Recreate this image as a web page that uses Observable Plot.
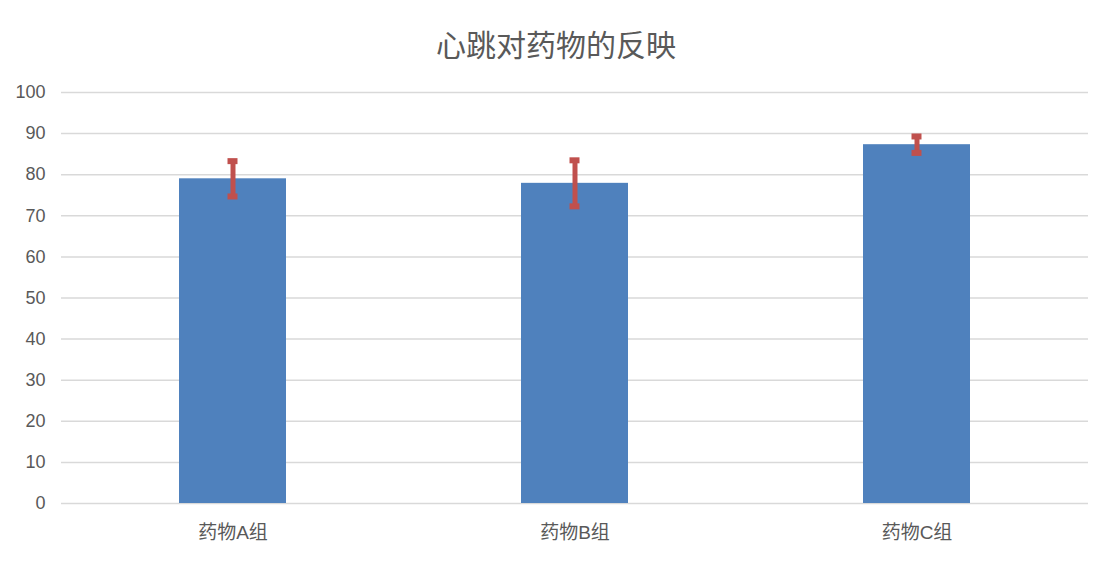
<!DOCTYPE html>
<html>
<head>
<meta charset="utf-8">
<script src="https://cdn.jsdelivr.net/npm/d3@7"></script>
<script src="https://cdn.jsdelivr.net/npm/@observablehq/plot@0.6"></script>
<style>
  html, body { margin: 0; padding: 0; background: #fff; }
  body { width: 1112px; height: 561px; overflow: hidden; font-family: "Liberation Sans", "Noto Sans CJK SC", sans-serif; }
  #title { height: 70px; line-height: 86px; text-align: center; font-size: 30px; color: #595959; font-family: "Noto Sans CJK SC", sans-serif; padding-left: 0px; }
</style>
</head>
<body>
<div id="title">心跳对药物的反映</div>
<div id="chart"></div>
<script>
const groups = ["药物A组", "药物B组", "药物C组"];
const means = [79, 77.9, 87.3];
const errors = [4.3, 5.6, 2.0];
const yTicks = [0, 10, 20, 30, 40, 50, 60, 70, 80, 90, 100];

const data = groups.map((g, i) => ({
  group: g,
  value: means[i],
  lo: means[i] - errors[i],
  hi: means[i] + errors[i]
}));

const chart = Plot.plot({
  width: 1112,
  height: 491,
  marginTop: 22,
  marginBottom: 58,
  marginLeft: 61,
  marginRight: 24,
  style: { fontFamily: "'Liberation Sans', 'Noto Sans CJK SC', sans-serif", fontSize: "18px", color: "#595959", background: "#fff" },
  x: { domain: groups, paddingInner: 0.687, paddingOuter: 0.3435, label: null, tickSize: 0, tickPadding: 22 },
  y: { domain: [0, 100], ticks: yTicks, label: null, tickSize: 0, tickPadding: 16 },
  marks: [
    Plot.gridY(yTicks, { stroke: "#d9d9d9", strokeOpacity: 1, strokeWidth: 1.5 }),
    Plot.barY(data, { x: "group", y: "value", fill: "#4f81bd" }),
    Plot.ruleX(data, { x: "group", y1: "lo", y2: "hi", stroke: "#c0504d", strokeWidth: 5 }),
    Plot.tickY(data, { x: "group", y: "hi", stroke: "#c0504d", strokeWidth: 6, inset: 48.5 }),
    Plot.tickY(data, { x: "group", y: "lo", stroke: "#c0504d", strokeWidth: 6, inset: 48.5 }),
    Plot.axisY({ ticks: yTicks, tickSize: 0, tickPadding: 16, fontSize: 18, fill: "#595959" }),
    Plot.axisX({ tickSize: 0, tickPadding: 22, fontSize: 19, fill: "#595959" })
  ]
});
document.getElementById("chart").appendChild(chart);
</script>
</body>
</html>
